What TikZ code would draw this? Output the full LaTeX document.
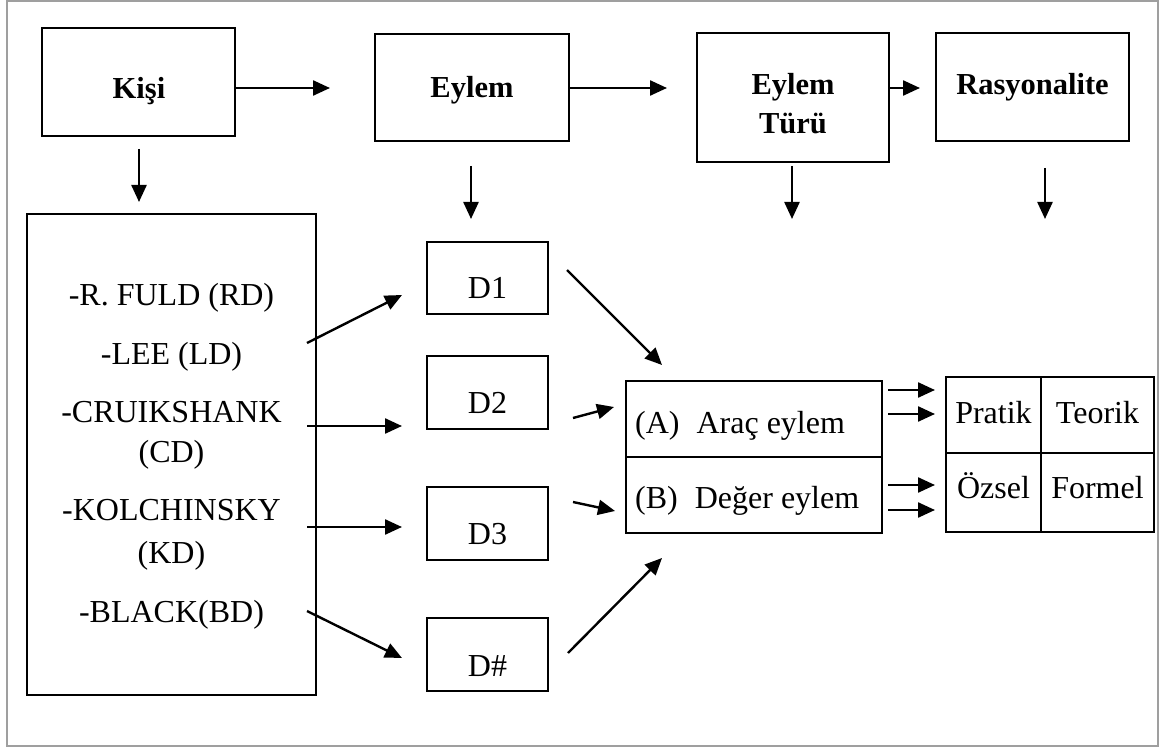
\documentclass[tikz,border=0pt]{standalone}
\usepackage{fontspec}
\setmainfont{Liberation Serif}
\usetikzlibrary{arrows.meta}
\begin{document}
\begin{tikzpicture}[x=1pt,y=-1pt,
  box/.style={draw, line width=2.4pt, inner sep=0pt, rectangle},
  arr/.style={line width=2.4pt, -{Triangle[length=17pt,width=15pt]}},
  txt/.style={font=\fontsize{32}{38}\selectfont, inner sep=0pt, anchor=base},
  btxt/.style={font=\fontsize{30.5}{39}\selectfont\bfseries, inner sep=0pt, anchor=base},
]
\useasboundingbox (0,0) rectangle (1160,749);
\draw[gray!75, line width=1.3pt] (7,1) rectangle (1158,746);

% top row
\node[box, minimum width=193pt, minimum height=108pt] (kisi) at (138.5,82) {};
\node[box, minimum width=194pt, minimum height=107pt] (eylem) at (472,87.5) {};
\node[box, minimum width=192pt, minimum height=129pt] (turu) at (793,97.5) {};
\node[box, minimum width=193pt, minimum height=108pt] (rasy) at (1032.5,87) {};
\node[btxt] (kisiT) at (139,99) {Kişi};
\node[btxt] (eylemT) at (472,98) {Eylem};
\node[btxt] (turuT1) at (793,95) {Eylem};
\node[btxt] (turuT2) at (793,134) {Türü};
\node[btxt] (rasyT) at (1032.5,95) {Rasyonalite};

% arrows in top row
\coordinate (e1) at (330,88);
\coordinate (e2) at (667,88);
\coordinate (e3) at (920,88);
\draw[arr] (kisi.east |- e1) -- (e1);
\draw[arr] (eylem.east |- e2) -- (e2);
\draw[arr] (turu.east |- e3) -- (e3);

% down arrows
\coordinate (k0) at (139,149); \coordinate (k1) at (139,202);
\coordinate (y0) at (471,166); \coordinate (y1) at (471,219);
\coordinate (t0) at (792,166); \coordinate (t1) at (792,219);
\coordinate (r0) at (1045,168); \coordinate (r1) at (1045,219);
\draw[arr] (k0) -- (k1);
\draw[arr] (y0) -- (y1);
\draw[arr] (t0) -- (t1);
\draw[arr] (r0) -- (r1);

% big list box
\node[box, minimum width=289pt, minimum height=481pt] (list) at (171.5,454.5) {};
\node[txt] (l1) at (171.5,305) {-R. FULD (RD)};
\node[txt] (l2) at (171.5,364) {-LEE (LD)};
\node[txt] (l3) at (171.5,422) {-CRUIKSHANK};
\node[txt] (l4) at (171.5,462) {(CD)};
\node[txt] (l5) at (171.5,520) {-KOLCHINSKY};
\node[txt] (l6) at (171.5,563) {(KD)};
\node[txt] (l7) at (171.5,622) {-BLACK(BD)};

% D boxes
\node[box, minimum width=121pt, minimum height=72pt] (d1) at (487.5,278) {};
\node[box, minimum width=121pt, minimum height=73pt] (d2) at (487.5,392.5) {};
\node[box, minimum width=121pt, minimum height=73pt] (d3) at (487.5,523.5) {};
\node[box, minimum width=121pt, minimum height=73pt] (d4) at (487.5,654.5) {};
\node[txt] (d1T) at (487.5,298) {D1};
\node[txt] (d2T) at (487.5,413) {D2};
\node[txt] (d3T) at (487.5,544) {D3};
\node[txt] (d4T) at (487.5,676) {D\#};

% arrows list -> D
\coordinate (a1s) at (307,343); \coordinate (a1e) at (402,295);
\coordinate (a2s) at (307,426); \coordinate (a2e) at (402,426);
\coordinate (a3s) at (307,527); \coordinate (a3e) at (402,527);
\coordinate (a4s) at (307,611); \coordinate (a4e) at (402,658);
\draw[arr] (a1s) -- (a1e);
\draw[arr] (a2s) -- (a2e);
\draw[arr] (a3s) -- (a3e);
\draw[arr] (a4s) -- (a4e);

% action type box
\node[box, minimum width=256pt, minimum height=76pt] (ab) at (754,419) {};
\node[box, minimum width=256pt, minimum height=76pt] (bb) at (754,495) {};
\node[txt, anchor=base west] (abT) at (635,433) {(A)\hspace{17pt}Araç eylem};
\node[txt, anchor=base west] (bbT) at (635,508) {(B)\hspace{17pt}Değer eylem};

% arrows D -> A/B
\coordinate (b1s) at (567,270); \coordinate (b1e) at (662,365);
\coordinate (b2s) at (573,418); \coordinate (b2e) at (614,407);
\coordinate (b3s) at (573,502); \coordinate (b3e) at (615,511);
\coordinate (b4s) at (568,653); \coordinate (b4e) at (662,558);
\draw[arr] (b1s) -- (b1e);
\draw[arr] (b2s) -- (b2e);
\draw[arr] (b3s) -- (b3e);
\draw[arr] (b4s) -- (b4e);

% rationality table
\node[box, minimum width=95pt, minimum height=76pt] (pr) at (993.5,415) {};
\node[box, minimum width=113pt, minimum height=76pt] (te) at (1097.5,415) {};
\node[box, minimum width=95pt, minimum height=79pt] (oz) at (993.5,492.5) {};
\node[box, minimum width=113pt, minimum height=79pt] (fo) at (1097.5,492.5) {};
\node[txt] (prT) at (993.5,423) {Pratik};
\node[txt] (teT) at (1097.5,423) {Teorik};
\node[txt] (ozT) at (993.5,498) {Özsel};
\node[txt] (foT) at (1097.5,498) {Formel};

% arrows A/B -> table
\coordinate (c1s) at (888,390); \coordinate (c1e) at (935,390);
\coordinate (c2s) at (888,414); \coordinate (c2e) at (935,414);
\coordinate (c3s) at (888,485); \coordinate (c3e) at (935,485);
\coordinate (c4s) at (888,510); \coordinate (c4e) at (935,510);
\draw[arr] (c1s) -- (c1e);
\draw[arr] (c2s) -- (c2e);
\draw[arr] (c3s) -- (c3e);
\draw[arr] (c4s) -- (c4e);
\end{tikzpicture}
\end{document}
